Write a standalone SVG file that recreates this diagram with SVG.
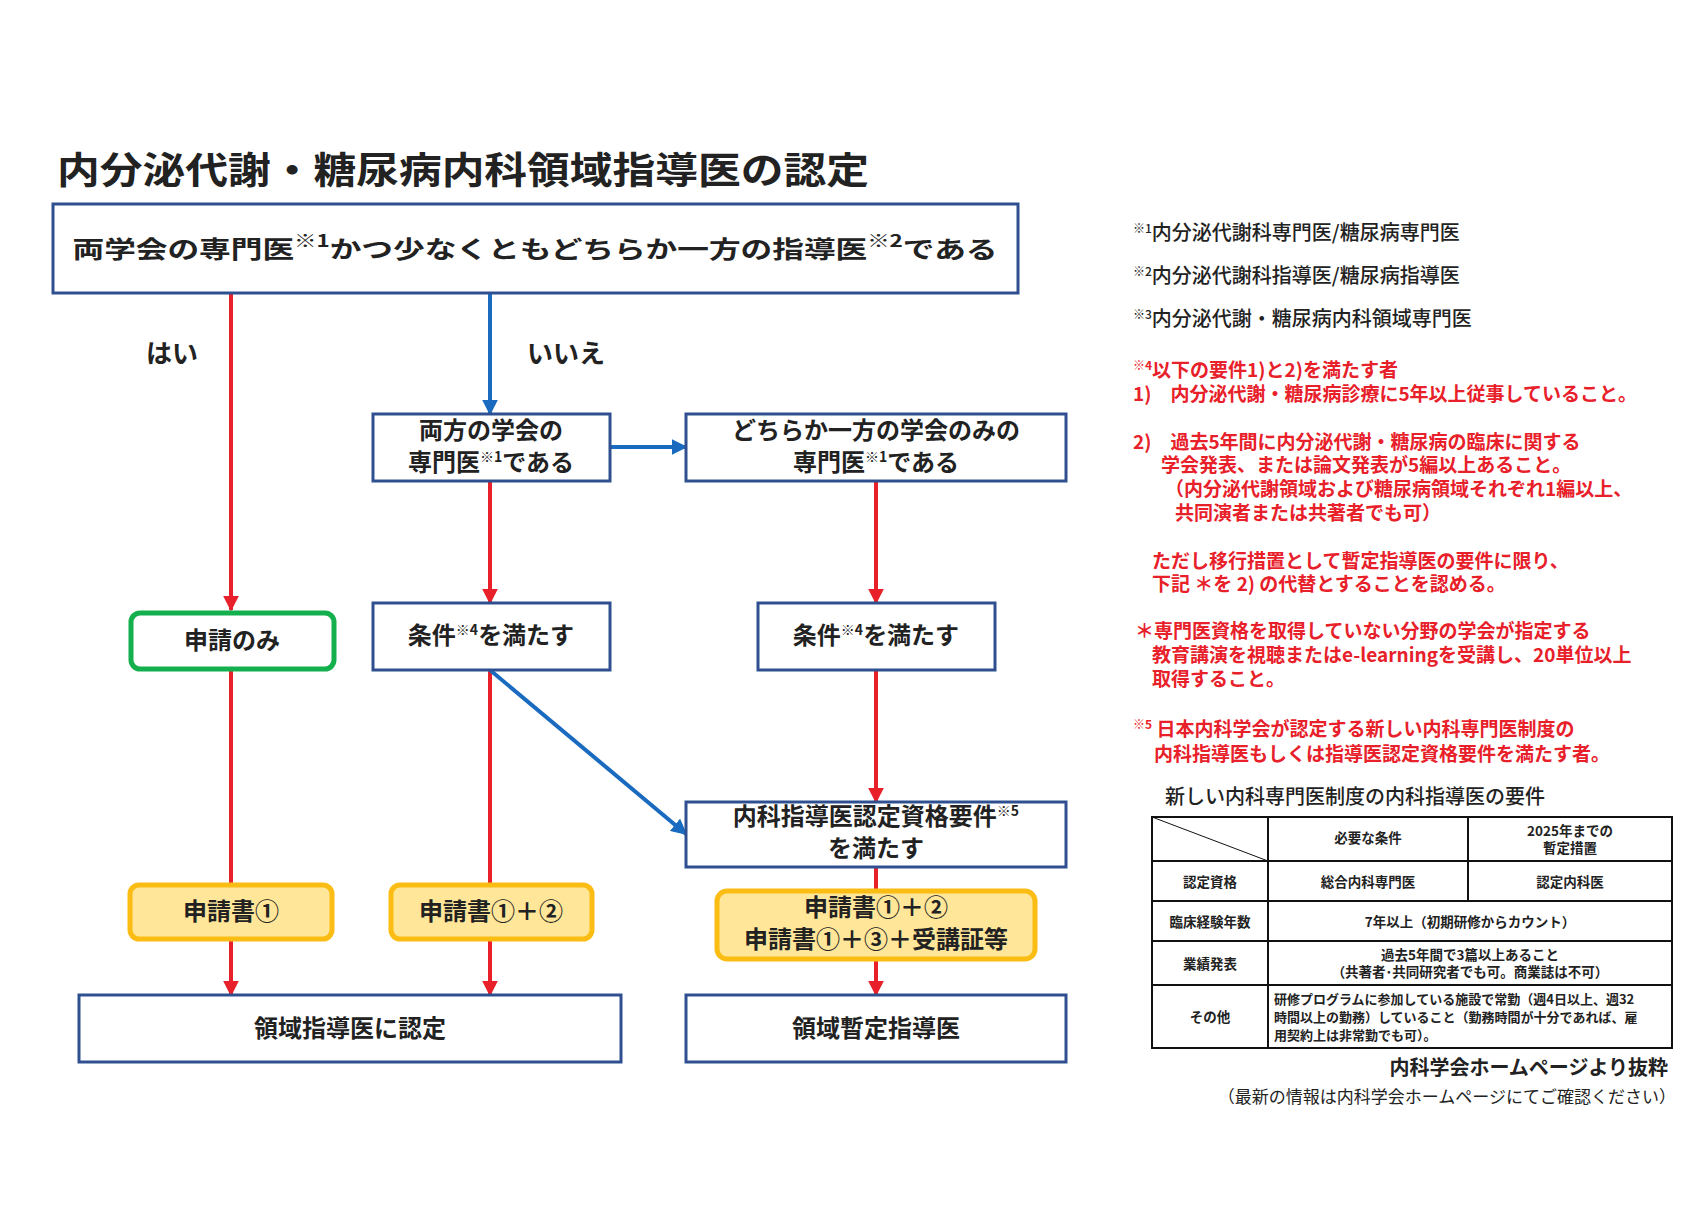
<svg xmlns="http://www.w3.org/2000/svg" width="1708" height="1207" viewBox="0 0 1708 1207">
<style>
text{font-family:"Noto Sans CJK JP","Noto Sans",sans-serif;fill:#222}
.b{font-weight:700}
.box{fill:#fff;stroke:#2e5090;stroke-width:3}
.g{fill:#fff;stroke:#15b04e;stroke-width:5}
.y{fill:#ffe699;stroke:#fbbc14;stroke-width:5}
.r{stroke:#e8202a;stroke-width:4;fill:none}
.bl{stroke:#1a6bbf;stroke-width:4;fill:none}
.n{font-size:24px;font-weight:700;text-anchor:middle}
.red{fill:#e8202a;font-size:19px;font-weight:700}
.note{font-size:20px;font-weight:500}
.t{font-size:13.5px;font-weight:700;text-anchor:middle}
.tl{stroke:#111;stroke-width:2;fill:none}
</style>
<defs>
<marker id="ar" viewBox="0 0 10 10" refX="9" refY="5" markerWidth="4" markerHeight="4.5" orient="auto" markerUnits="strokeWidth"><path d="M0,0L10,5L0,10z" fill="#e8202a"/></marker>
<marker id="ab" viewBox="0 0 10 10" refX="9" refY="5" markerWidth="4" markerHeight="4" orient="auto" markerUnits="strokeWidth"><path d="M0,0L10,5L0,10z" fill="#1a6bbf"/></marker>
</defs>
<rect width="1708" height="1207" fill="#fff"/>
<text x="57" y="184" class="b" font-size="37" textLength="812" lengthAdjust="spacingAndGlyphs">内分泌代謝・糖尿病内科領域指導医の認定</text>

<g id="connectors">
<path class="r" d="M231,293V610" marker-end="url(#ar)"/>
<path class="bl" d="M490,293V414" marker-end="url(#ab)"/>
<path class="bl" d="M610,447H686" stroke-width="5" marker-end="url(#ab)"/>
<path class="r" d="M490,481V603" marker-end="url(#ar)"/>
<path class="r" d="M876,481V603" marker-end="url(#ar)"/>
<path class="r" d="M231,669V885"/>
<path class="r" d="M490,670V885"/>
<path class="bl" d="M490,670L686,834" stroke-width="5" marker-end="url(#ab)"/>
<path class="r" d="M876,670V802" marker-end="url(#ar)"/>
<path class="r" d="M876,867V891"/>
<path class="r" d="M231,939V995" marker-end="url(#ar)"/>
<path class="r" d="M490,939V995" marker-end="url(#ar)"/>
<path class="r" d="M876,959V995" marker-end="url(#ar)"/>
<text x="172" y="363" class="b" font-size="26" text-anchor="middle">はい</text>
<text x="566" y="363" class="b" font-size="26" text-anchor="middle">いいえ</text>
</g>

<g id="top"><rect class="box" x="53" y="204" width="965" height="89"/>
<text x="535" y="258" class="n" font-size="30" textLength="925" lengthAdjust="spacingAndGlyphs">両学会の専門医<tspan font-size="17" dy="-11">※1</tspan><tspan dy="11">かつ少なくともどちらか一方の指導医</tspan><tspan font-size="17" dy="-11">※2</tspan><tspan dy="11">である</tspan></text></g>

<g id="both"><rect class="box" x="373" y="414" width="237" height="67"/>
<text x="491" y="439" class="n" font-size="23">両方の学会の</text>
<text x="491" y="471" class="n" font-size="23">専門医<tspan font-size="14" dy="-9">※1</tspan><tspan dy="9">である</tspan></text></g>

<g id="either"><rect class="box" x="686" y="414" width="380" height="67"/>
<text x="876" y="439" class="n" font-size="23">どちらか一方の学会のみの</text>
<text x="876" y="471" class="n" font-size="23">専門医<tspan font-size="14" dy="-9">※1</tspan><tspan dy="9">である</tspan></text></g>

<g id="apply"><rect class="g" x="131" y="613" width="203" height="56" rx="9"/>
<text x="232" y="649" class="n">申請のみ</text></g>

<g id="cond1"><rect class="box" x="373" y="603" width="237" height="67"/>
<text x="491" y="644" class="n">条件<tspan font-size="14" dy="-9">※4</tspan><tspan dy="9">を満たす</tspan></text></g>

<g id="cond2"><rect class="box" x="758" y="603" width="237" height="67"/>
<text x="876" y="644" class="n">条件<tspan font-size="14" dy="-9">※4</tspan><tspan dy="9">を満たす</tspan></text></g>

<g id="naika"><rect class="box" x="686" y="802" width="380" height="65"/>
<text x="876" y="825" class="n" font-size="23">内科指導医認定資格要件<tspan font-size="14" dy="-9">※5</tspan></text>
<text x="876" y="857" class="n" font-size="23">を満たす</text></g>

<g id="doc1"><rect class="y" x="130" y="885" width="202" height="54" rx="9"/>
<text x="231" y="920" class="n">申請書①</text></g>

<g id="doc2"><rect class="y" x="391" y="885" width="201" height="54" rx="9"/>
<text x="491" y="920" class="n">申請書①＋②</text></g>

<g id="doc3"><rect class="y" x="717" y="891" width="318" height="68" rx="10"/>
<text x="876" y="916" class="n" font-size="23">申請書①＋②</text>
<text x="876" y="948" class="n" font-size="23">申請書①＋③＋受講証等</text></g>

<g id="res1"><rect class="box" x="79" y="995" width="542" height="67"/>
<text x="350" y="1037" class="n">領域指導医に認定</text></g>

<g id="res2"><rect class="box" x="686" y="995" width="380" height="67"/>
<text x="876" y="1037" class="n">領域暫定指導医</text></g>

<g id="notes">
<text x="1133" y="240" class="note"><tspan font-size="12" dy="-7">※1</tspan><tspan dy="7">内分泌代謝科専門医/糖尿病専門医</tspan></text>
<text x="1133" y="283" class="note"><tspan font-size="12" dy="-7">※2</tspan><tspan dy="7">内分泌代謝科指導医/糖尿病指導医</tspan></text>
<text x="1133" y="326" class="note"><tspan font-size="12" dy="-7">※3</tspan><tspan dy="7">内分泌代謝・糖尿病内科領域専門医</tspan></text>
<text x="1133" y="377" class="red" font-size="20"><tspan font-size="12" dy="-7">※4</tspan><tspan dy="7">以下の要件1)と2)を満たす者</tspan></text>
<text x="1133" y="401" class="red">1)　内分泌代謝・糖尿病診療に5年以上従事していること。</text>
<text x="1133" y="449" class="red">2)　過去5年間に内分泌代謝・糖尿病の臨床に関する</text>
<text x="1161" y="472" class="red">学会発表、または論文発表が5編以上あること。</text>
<text x="1165" y="496" class="red">（内分泌代謝領域および糖尿病領域それぞれ1編以上、</text>
<text x="1175" y="520" class="red">共同演者または共著者でも可）</text>
<text x="1152" y="568" class="red">ただし移行措置として暫定指導医の要件に限り、</text>
<text x="1152" y="591" class="red">下記 ＊を 2) の代替とすることを認める。</text>
<text x="1135" y="638" class="red">＊専門医資格を取得していない分野の学会が指定する</text>
<text x="1152" y="662" class="red">教育講演を視聴またはe-learningを受講し、20単位以上</text>
<text x="1152" y="686" class="red">取得すること。</text>
<text x="1133" y="736" class="red"><tspan font-size="12" dy="-7">※5</tspan><tspan dy="7"> 日本内科学会が認定する新しい内科専門医制度の</tspan></text>
<text x="1154" y="761" class="red">内科指導医もしくは指導医認定資格要件を満たす者。</text>
</g>

<g id="table">
<text x="1165" y="804" font-size="20" font-weight="500">新しい内科専門医制度の内科指導医の要件</text>
<rect class="tl" x="1152" y="817" width="520" height="231"/>
<path class="tl" d="M1152,861H1672M1152,901H1672M1152,941H1672M1152,985H1672M1268,817V1048M1468,817V901"/>
<path d="M1152,817L1268,861" stroke="#111" stroke-width="1"/>
<text x="1368" y="843" class="t">必要な条件</text>
<text x="1570" y="836" class="t" font-weight="500">2025年までの</text>
<text x="1570" y="853" class="t">暫定措置</text>
<text x="1210" y="887" class="t">認定資格</text>
<text x="1368" y="887" class="t">総合内科専門医</text>
<text x="1570" y="887" class="t">認定内科医</text>
<text x="1210" y="927" class="t">臨床経験年数</text>
<text x="1470" y="927" class="t">7年以上（初期研修からカウント）</text>
<text x="1210" y="969" class="t">業績発表</text>
<text x="1470" y="960" class="t">過去5年間で3篇以上あること</text>
<text x="1470" y="977" class="t">（共著者･共同研究者でも可。商業誌は不可）</text>
<text x="1210" y="1022" class="t">その他</text>
<text x="1274" y="1004" font-size="13" font-weight="700">研修プログラムに参加している施設で常勤（週4日以上、週32</text>
<text x="1274" y="1022" font-size="13" font-weight="700">時間以上の勤務）していること（勤務時間が十分であれば、雇</text>
<text x="1274" y="1040" font-size="13" font-weight="700">用契約上は非常勤でも可）。</text>
<text x="1668" y="1075" font-size="20" font-weight="700" text-anchor="end">内科学会ホームページより抜粋</text>
<text x="1676" y="1103" font-size="17" text-anchor="end">（最新の情報は内科学会ホームページにてご確認ください）</text>
</g>
</svg>
